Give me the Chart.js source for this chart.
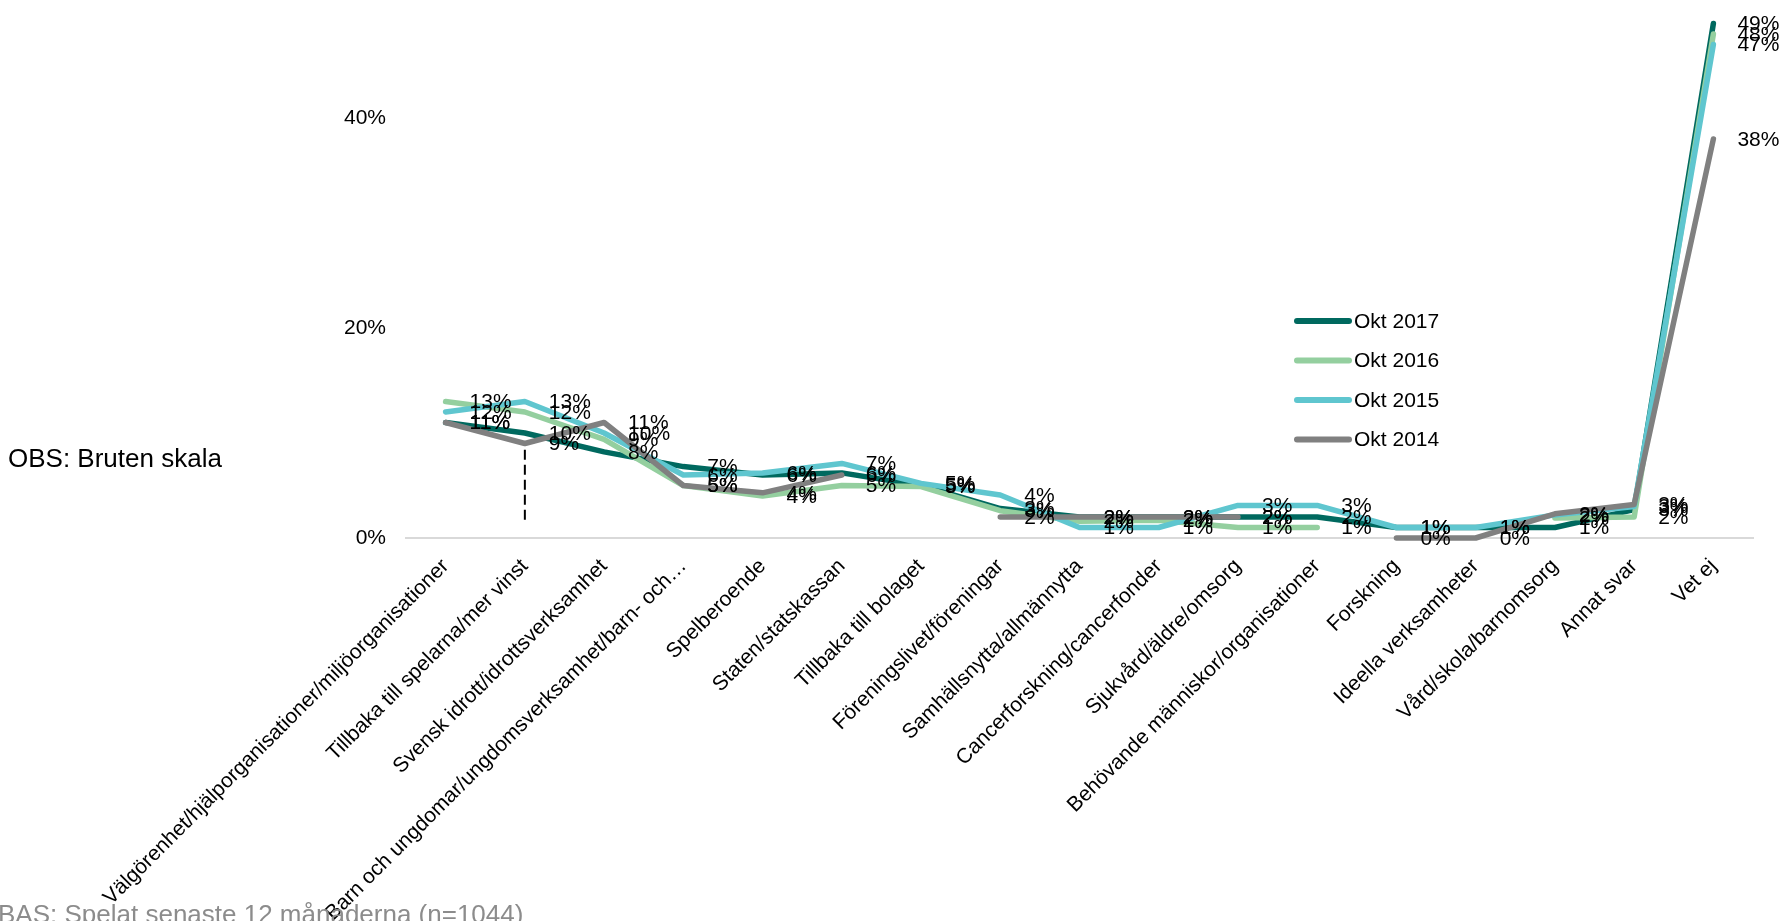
<!DOCTYPE html>
<html>
<head>
<meta charset="utf-8">
<script src="https://cdn.jsdelivr.net/npm/chart.js@4/dist/chart.umd.min.js"></script>
<style>
  html, body { margin: 0; padding: 0; background: #fff; }
  #givarChart { display: block; }
</style>
</head>
<body>
<canvas id="givarChart" width="1781" height="921"></canvas>
<script>
// vart ska överskottet gå - Okt 2014-2017
const categories = [
  'Välgörenhet/hjälporganisationer/miljöorganisationer',
  'Tillbaka till spelarna/mer vinst',
  'Svensk idrott/idrottsverksamhet',
  'Barn och ungdomar/ungdomsverksamhet/barn- och…',
  'Spelberoende',
  'Staten/statskassan',
  'Tillbaka till bolaget',
  'Föreningslivet/föreningar',
  'Samhällsnytta/allmännytta',
  'Cancerforskning/cancerfonder',
  'Sjukvård/äldre/omsorg',
  'Behövande människor/organisationer',
  'Forskning',
  'Ideella verksamheter',
  'Vård/skola/barnomsorg',
  'Annat svar',
  'Vet ej'
];

const okt2017 = [11, 10, 8.2, 6.8, 6, 6.2, 5, 2.8, 2, 2, 2, 2, 1, 1, 1, 2.7, 49];
const okt2016 = [13, 12, 9.4, 5, 4, 5, 4.9, 2.6, 1.6, 1.7, 1, 1, null, null, 1.9, 2, 48];
const okt2015 = [12, 13, 10, 6, 6.2, 7.1, 5.2, 4.1, 1, 1, 3.1, 3.1, 1, 1, 2.2, 3, 47];
const okt2014 = [11, 9, 11, 5, 4.3, 6, null, 2, 2, 2, 2, null, 0, 0, 2.3, 3.2, 38];

const seriesNames = ['Okt 2017', 'Okt 2016', 'Okt 2015', 'Okt 2014'];
const seriesColors = ['#00695f', '#94cf9f', '#5fc6cf', '#808080'];
const yTicks = [0, 20, 40];

const noteText = 'OBS: Bruten skala';
const baseText = 'BAS: Spelat senaste 12 månaderna (n=1044)';

// dashed marker for the broken scale, at category index, from/to value
const breakCategory = 1;
const breakFrom = 8.4;
const breakTo = 1.5;

const FONT = '"Liberation Sans", Arial, sans-serif';

const valueLabels = {
  id: 'valueLabels',
  afterDatasetsDraw(chart) {
    const ctx = chart.ctx;
    ctx.save();
    ctx.font = '21px ' + FONT;
    ctx.fillStyle = '#000';
    ctx.textAlign = 'left';
    ctx.textBaseline = 'middle';
    chart.data.datasets.forEach((ds, i) => {
      const meta = chart.getDatasetMeta(i);
      meta.data.forEach((pt, j) => {
        const v = ds.data[j];
        if (v === null || v === undefined) return;
        ctx.fillText(Math.round(v) + '%', pt.x + 24, pt.y + 1);
      });
    });
    ctx.restore();
  }
};

const extras = {
  id: 'extras',
  afterDraw(chart) {
    const ctx = chart.ctx;
    const x = chart.scales.x;
    const y = chart.scales.y;
    ctx.save();

    // bruten skala marker
    ctx.strokeStyle = '#000';
    ctx.lineWidth = 2;
    ctx.setLineDash([10, 5]);
    const bx = x.getPixelForValue(breakCategory);
    ctx.beginPath();
    ctx.moveTo(bx, y.getPixelForValue(breakFrom));
    ctx.lineTo(bx, y.getPixelForValue(breakTo));
    ctx.stroke();
    ctx.setLineDash([]);

    // legend
    ctx.font = '21px ' + FONT;
    ctx.textBaseline = 'middle';
    ctx.textAlign = 'left';
    seriesNames.forEach((name, i) => {
      const ly = 321 + i * 39.5;
      ctx.strokeStyle = seriesColors[i];
      ctx.lineWidth = 6;
      ctx.lineCap = 'round';
      ctx.beginPath();
      ctx.moveTo(1297, ly);
      ctx.lineTo(1349, ly);
      ctx.stroke();
      ctx.fillStyle = '#000';
      ctx.fillText(name, 1354, ly + 1);
    });

    // notes
    ctx.textBaseline = 'alphabetic';
    ctx.font = '26px ' + FONT;
    ctx.fillStyle = '#000';
    ctx.fillText(noteText, 8, 467);
    ctx.fillStyle = '#8c8c8c';
    ctx.fillText(baseText, -2, 923);
    ctx.restore();
  }
};

const datasets = [okt2017, okt2016, okt2015, okt2014].map((d, i) => ({
  label: seriesNames[i],
  data: d,
  borderColor: seriesColors[i],
  backgroundColor: seriesColors[i],
  borderWidth: 5.5,
  borderCapStyle: 'round',
  borderJoinStyle: 'round',
  pointRadius: 0,
  tension: 0,
  spanGaps: false,
  clip: false,
  order: 4 - i
}));

new Chart(document.getElementById('givarChart').getContext('2d'), {
  type: 'line',
  data: { labels: categories, datasets: datasets },
  options: {
    responsive: false,
    animation: false,
    layout: { padding: { top: 13, right: 28, left: 0, bottom: 0 } },
    plugins: {
      legend: { display: false },
      tooltip: { enabled: false }
    },
    scales: {
      x: {
        offset: true,
        grid: { display: false, drawTicks: false },
        border: { display: true, color: '#d9d9d9', width: 2 },
        ticks: {
          autoSkip: false,
          minRotation: 45,
          maxRotation: 45,
          padding: 16,
          color: '#000',
          font: { family: FONT, size: 21 }
        },
        afterFit(scale) { scale.height = 383; }
      },
      y: {
        min: 0,
        max: 50,
        grid: { display: false, drawTicks: false },
        border: { display: false },
        afterBuildTicks(scale) {
          scale.ticks = yTicks.map(v => ({ value: v }));
        },
        ticks: {
          padding: 20,
          color: '#000',
          font: { family: FONT, size: 21 },
          callback: v => v + '%'
        },
        afterFit(scale) {
          scale.width = 406;
          scale.paddingTop = 0;
          scale.paddingBottom = 0;
        }
      }
    }
  },
  plugins: [valueLabels, extras]
});
</script>
</body>
</html>
